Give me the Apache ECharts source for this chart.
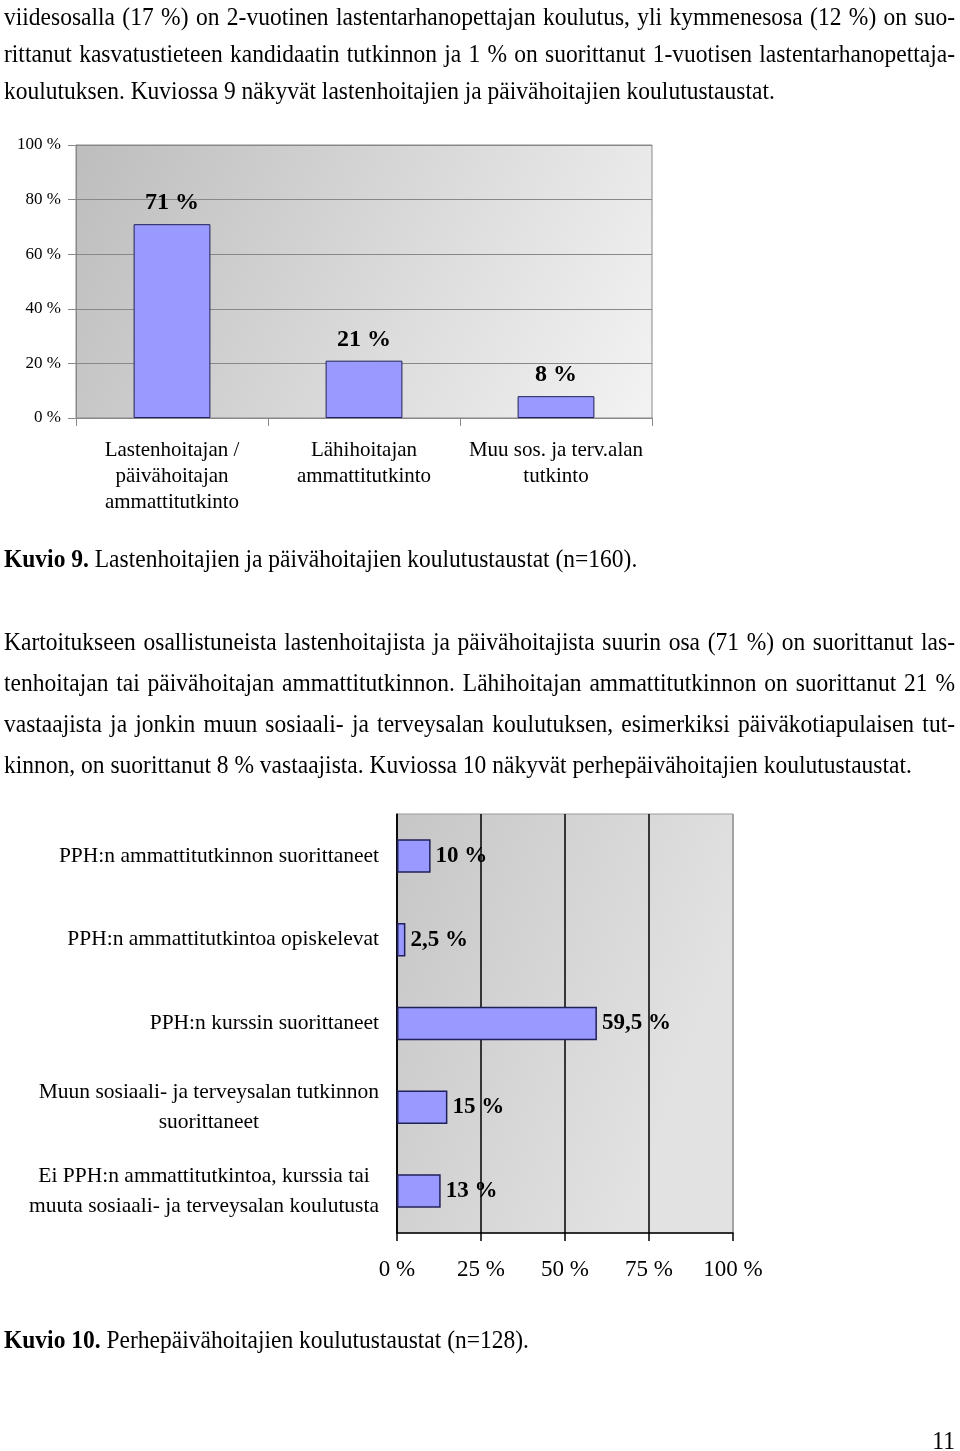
<!DOCTYPE html>
<html>
<head>
<meta charset="utf-8">
<script src="https://cdn.jsdelivr.net/npm/echarts@6/dist/echarts.min.js"></script>
<style>
  html, body { margin: 0; padding: 0; background: #fff; }
  #page { position: relative; width: 960px; height: 1451px; overflow: hidden; }
  #chart { position: absolute; left: 0; top: 0; width: 960px; height: 1451px; }
  .ln { position: absolute; left: 4px; width: 951px; font-family: "Liberation Serif", "Times New Roman", serif;
        font-size: 23.5px; line-height: 26px; height: 26px; white-space: nowrap; color: #000;
        transform: scaleY(1.06); transform-origin: 50% 50%; pointer-events: none; }
  .j { text-align: justify; text-align-last: justify; }
  b { font-weight: bold; }
</style>
</head>
<body>
<div id="page">
  <div id="chart"></div>
  <div class="ln j" style="top:4px">viidesosalla (17 %) on 2-vuotinen lastentarhanopettajan koulutus, yli kymmenesosa (12 %) on suo-</div>
  <div class="ln j" style="top:41px">rittanut kasvatustieteen kandidaatin tutkinnon ja 1 % on suorittanut 1-vuotisen lastentarhanopettaja-</div>
  <div class="ln" style="top:78px">koulutuksen. Kuviossa 9 näkyvät lastenhoitajien ja päivähoitajien koulutustaustat.</div>
  <div class="ln" style="top:546px"><b>Kuvio 9.</b> Lastenhoitajien ja päivähoitajien koulutustaustat (n=160).</div>
  <div class="ln j" style="top:629px">Kartoitukseen osallistuneista lastenhoitajista ja päivähoitajista suurin osa (71 %) on suorittanut las-</div>
  <div class="ln j" style="top:670px">tenhoitajan tai päivähoitajan ammattitutkinnon. Lähihoitajan ammattitutkinnon on suorittanut 21 %</div>
  <div class="ln j" style="top:711px">vastaajista ja jonkin muun sosiaali- ja terveysalan koulutuksen, esimerkiksi päiväkotiapulaisen tut-</div>
  <div class="ln" style="top:752px">kinnon, on suorittanut 8 % vastaajista. Kuviossa 10 näkyvät perhepäivähoitajien koulutustaustat.</div>
  <div class="ln" style="top:1327px"><b>Kuvio 10.</b> Perhepäivähoitajien koulutustaustat (n=128).</div>
  <div class="ln" style="top:1428px; text-align:right">11</div>
</div>
<script>
// ---- Chart 1 data (Kuvio 9) ----
const cat1 = ['Lastenhoitajan /\npäivähoitajan\nammattitutkinto', 'Lähihoitajan\nammattitutkinto', 'Muu sos. ja terv.alan\ntutkinto'];
const val1 = [71, 21, 8];
const yMin1 = 0, yMax1 = 100, yStep1 = 20;

// ---- Chart 2 data (Kuvio 10) ----
const cat2 = [
  'PPH:n ammattitutkinnon suorittaneet',
  'PPH:n ammattitutkintoa opiskelevat',
  'PPH:n kurssin suorittaneet',
  'Muun sosiaali- ja terveysalan tutkinnon\nsuorittaneet',
  'Ei PPH:n ammattitutkintoa, kurssia tai\nmuuta sosiaali- ja terveysalan koulutusta'
];
const val2 = [10, 2.5, 59.5, 15, 13];
const xMin2 = 0, xMax2 = 100, xStep2 = 25;

const SERIF = '"Liberation Serif", "Times New Roman", serif';
const BAR_FILL = '#9999ff';
const BAR_EDGE = '#20205a';
const pct = v => String(v).replace('.', ',') + ' %';

const chart = echarts.init(document.getElementById('chart'), null, { renderer: 'canvas' });
chart.setOption({
  animation: false,
  backgroundColor: '#ffffff',
  grid: [
    { left: 76, top: 145, width: 576, height: 273, show: true, borderColor: '#888', borderWidth: 1,
      backgroundColor: { type: 'linear', x: 0, y: 0, x2: 1, y2: 1,
        colorStops: [{ offset: 0, color: '#bdbdbd' }, { offset: 1, color: '#f3f3f3' }] } },
    { left: 397, top: 814, width: 336, height: 419, show: true, borderColor: '#999', borderWidth: 1,
      backgroundColor: { type: 'linear', x: 0, y: 0, x2: 1, y2: 0.3,
        colorStops: [{ offset: 0, color: '#c6c6c6' }, { offset: 1, color: '#e2e2e2' }] } }
  ],
  xAxis: [
    { gridIndex: 0, type: 'category', data: cat1, boundaryGap: true,
      axisLine: { lineStyle: { color: '#888', width: 1 } },
      axisTick: { show: true, length: 8, alignWithLabel: false, lineStyle: { color: '#888' } },
      axisLabel: { margin: 19, fontFamily: SERIF, fontSize: 21, lineHeight: 26, color: '#000', interval: 0 } },
    { gridIndex: 1, type: 'value', min: xMin2, max: xMax2, interval: xStep2,
      axisLine: { show: true, lineStyle: { color: '#000', width: 1.5 } },
      axisTick: { show: true, length: 8, lineStyle: { color: '#000', width: 1.5 } },
      axisLabel: { margin: 25, fontFamily: SERIF, fontSize: 23, color: '#000', formatter: v => v + ' %' },
      splitLine: { show: true, lineStyle: { color: ['#000', '#000', '#000', '#000', '#999'], width: 1.5 } } }
  ],
  yAxis: [
    { gridIndex: 0, type: 'value', min: yMin1, max: yMax1, interval: yStep1,
      axisLine: { show: true, lineStyle: { color: '#888', width: 1 } },
      axisTick: { show: true, length: 8, lineStyle: { color: '#888' } },
      axisLabel: { margin: 15, fontFamily: SERIF, fontSize: 17, color: '#000', formatter: v => v + ' %' },
      splitLine: { show: true, lineStyle: { color: '#888', width: 1 } } },
    { gridIndex: 1, type: 'category', data: cat2, inverse: true,
      axisLine: { show: true, lineStyle: { color: '#000', width: 1.5 } },
      axisTick: { show: false },
      axisLabel: { margin: 18, interval: 0, align: 'right', color: '#000',
        formatter: v => v.split('\n').map(l => '{c|' + l + '}').join('\n'),
        rich: { c: { align: 'center', fontFamily: SERIF, fontSize: 21.5, lineHeight: 30, color: '#000' } } } }
  ],
  series: [
    { type: 'bar', xAxisIndex: 0, yAxisIndex: 0, data: val1, barWidth: '40%',
      itemStyle: { color: BAR_FILL, borderColor: BAR_EDGE, borderWidth: 1 },
      label: { show: true, position: 'top', distance: 9, fontFamily: SERIF, fontSize: 24, fontWeight: 'bold',
        color: '#000', formatter: p => pct(p.value) } },
    { type: 'bar', xAxisIndex: 1, yAxisIndex: 1, data: val2, barWidth: '40%',
      itemStyle: { color: BAR_FILL, borderColor: BAR_EDGE, borderWidth: 1.5 },
      label: { show: true, position: 'right', distance: 5, fontFamily: SERIF, fontSize: 23, fontWeight: 'bold',
        color: '#000', formatter: p => pct(p.value) } }
  ]
});
</script>
</body>
</html>
